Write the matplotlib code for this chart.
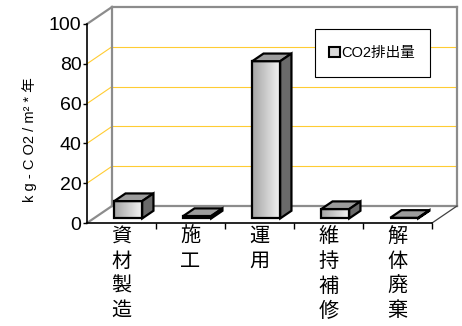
import matplotlib
matplotlib.use('Agg')
import matplotlib.pyplot as plt
import numpy as np
from matplotlib.patches import Polygon, Patch, Rectangle
from matplotlib.colors import LinearSegmentedColormap

plt.rcParams['font.family'] = ['Liberation Sans', 'Noto Sans CJK JP']

categories = ['資材製造', '施工', '運用', '維持補修', '解体廃棄']
values = [8.7, 1.2, 79, 4.7, 0.3]
series_name = 'CO2排出量'
y_ticks = [0, 20, 40, 60, 80, 100]
y_label = 'k g - C O2 / m² * 年'

# 3D look: depth offset of the back wall, in data units
DX = 0.362
DY = 8.54
F0, F1 = 0.27, 0.72      # bar front / back depth
BAR_W = 0.405
WALL = '#8c8c8c'
GRID = '#ffcc33'

fig = plt.figure(figsize=(4.62, 3.26), dpi=100)
ax = fig.add_axes([87 / 462, 103 / 326, 345 / 462, 199 / 326])
n = len(categories)
ax.set_xlim(-0.5, n - 0.5)
ax.set_ylim(0, 100)

# back wall, floor and side lines
x0, x1 = -0.5, n - 0.5
wall_kw = dict(color=WALL, lw=1.6, clip_on=False, zorder=1, solid_capstyle='projecting')
ax.plot([x0 + DX, x0 + DX], [DY, 100 + DY], **wall_kw)
ax.plot([x1 + DX, x1 + DX], [DY, 100 + DY], **wall_kw)
ax.plot([x0 + DX, x1 + DX], [100 + DY, 100 + DY], **wall_kw)
ax.plot([x0 + DX, x1 + DX], [DY, DY], **wall_kw)
ax.plot([x0, x0 + DX], [100, 100 + DY], **wall_kw)
ax.plot([x0, x0 + DX], [0, DY], **wall_kw)
ax.plot([x1, x1 + DX], [0, DY], color='#404040', lw=0.9, clip_on=False, zorder=1)

for v in y_ticks[1:-1]:
    ax.plot([x0 + DX, x1 + DX], [v + DY, v + DY], color=GRID, lw=0.8, clip_on=False, zorder=0.5)
    ax.plot([x0, x0 + DX], [v, v + DY], color=GRID, lw=0.8, clip_on=False, zorder=0.5)

# bars
cmap = LinearSegmentedColormap.from_list('face', ['#a4a4a4', '#f2f2f2'])
grad = np.linspace(0, 1, 64).reshape(1, -1)
for i, v in enumerate(values):
    fx = i - BAR_W / 2 + F0 * DX
    fy = F0 * DY
    ddx = (F1 - F0) * DX
    ddy = (F1 - F0) * DY
    ax.imshow(grad, cmap=cmap, extent=[fx, fx + BAR_W, fy, fy + v],
              aspect='auto', zorder=3, interpolation='bilinear')
    ax.add_patch(Rectangle((fx, fy), BAR_W, v, fill=False, ec='black', lw=1.6,
                           zorder=4, joinstyle='miter'))
    top = [(fx, fy + v), (fx + BAR_W, fy + v), (fx + BAR_W + ddx, fy + v + ddy), (fx + ddx, fy + v + ddy)]
    ax.add_patch(Polygon(top, closed=True, fc='#9c9c9c', ec='black', lw=1.6, zorder=4, joinstyle='miter'))
    side = [(fx + BAR_W, fy), (fx + BAR_W, fy + v), (fx + BAR_W + ddx, fy + v + ddy), (fx + BAR_W + ddx, fy + ddy)]
    ax.add_patch(Polygon(side, closed=True, fc='#6a6a6a', ec='black', lw=1.6, zorder=4, joinstyle='miter'))

ax.set_xlim(-0.5, n - 0.5)
ax.set_ylim(0, 100)

# axes
for s in ['top', 'right']:
    ax.spines[s].set_visible(False)
for s in ['left', 'bottom']:
    ax.spines[s].set_color('black')
    ax.spines[s].set_linewidth(1.2)
    ax.spines[s].set_zorder(5)
ax.patch.set_visible(False)

ax.set_yticks(y_ticks)
ax.set_yticklabels([str(t) for t in y_ticks], fontsize=14)
ax.tick_params(axis='y', direction='out', length=3, width=1, pad=1)

ax.set_xticks([i + 0.5 for i in range(n)])
ax.set_xticklabels([])
ax.tick_params(axis='x', which='major', direction='out', length=4, width=1)
ax.set_xticks(range(n), minor=True)
ax.set_xticklabels(['\n'.join(c) for c in categories], minor=True, fontsize=14.5,
                   linespacing=1.38, va='top')
ax.tick_params(axis='x', which='minor', length=0, pad=3)

ax.set_ylabel(y_label, fontsize=10.5)
ax.yaxis.set_label_coords(-0.145, 0.42)

# legend
handle = Patch(fc='#d8d8d8', ec='black', lw=1.5)
fig.add_artist(Rectangle((315 / 462, 1 - 77 / 326), 115 / 462, 48 / 326,
                         transform=fig.transFigure, fc='white', ec='black', lw=0.8, zorder=6))
leg = fig.legend([handle], [series_name], loc='center', bbox_to_anchor=(372 / 462, 1 - 53 / 326),
                 frameon=False, fontsize=10.5, handlelength=0.75, handleheight=0.75,
                 handletextpad=0.1, borderpad=0)
leg.set_zorder(7)

fig.savefig('out.png', dpi=100)
